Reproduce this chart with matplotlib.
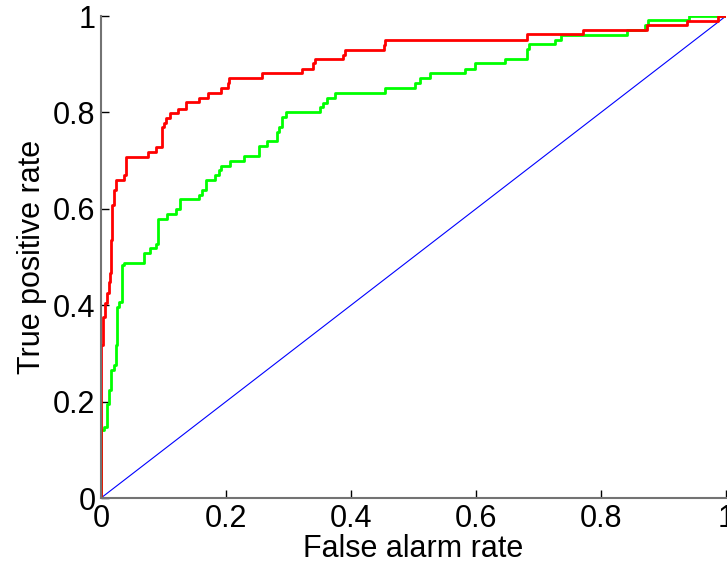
import matplotlib
matplotlib.use('Agg')
import matplotlib.pyplot as plt

plt.rcParams['font.family'] = ['Liberation Sans', 'DejaVu Sans']

# ROC corner points (false alarm rate, true positive rate)
red_fpr = [0, 0, 0.003, 0.003, 0.006, 0.006, 0.009, 0.009, 0.012, 0.012, 0.014, 0.014,
           0.016, 0.016, 0.018, 0.018, 0.021, 0.021, 0.024, 0.024, 0.037, 0.037, 0.040, 0.040,
           0.075, 0.075, 0.088, 0.088, 0.097, 0.097, 0.101, 0.101, 0.104, 0.104, 0.111, 0.111,
           0.123, 0.123, 0.136, 0.136, 0.156, 0.156, 0.171, 0.171, 0.192, 0.192, 0.203, 0.203,
           0.205, 0.205, 0.258, 0.258, 0.321, 0.321, 0.339, 0.339, 0.342, 0.342, 0.387, 0.387,
           0.390, 0.390, 0.452, 0.452, 0.454, 0.454, 0.681, 0.681, 0.771, 0.771, 0.873, 0.873,
           0.937, 0.937, 0.987, 0.987, 1.0]
red_tpr = [0, 0.317, 0.317, 0.375, 0.375, 0.405, 0.405, 0.425, 0.425, 0.448, 0.448, 0.467,
           0.467, 0.535, 0.535, 0.608, 0.608, 0.639, 0.639, 0.660, 0.660, 0.670, 0.670, 0.708,
           0.708, 0.718, 0.718, 0.729, 0.729, 0.770, 0.770, 0.779, 0.779, 0.788, 0.788, 0.798,
           0.798, 0.808, 0.808, 0.821, 0.821, 0.829, 0.829, 0.840, 0.840, 0.850, 0.850, 0.860,
           0.860, 0.871, 0.871, 0.881, 0.881, 0.890, 0.890, 0.902, 0.902, 0.910, 0.910, 0.919,
           0.919, 0.929, 0.929, 0.940, 0.940, 0.950, 0.950, 0.962, 0.962, 0.971, 0.971, 0.981,
           0.981, 0.990, 0.990, 1.0, 1.0]

green_fpr = [0, 0, 0.004, 0.004, 0.009, 0.009, 0.013, 0.013, 0.016, 0.016, 0.020, 0.020,
             0.0235, 0.0235, 0.025, 0.025, 0.029, 0.029, 0.033, 0.033, 0.037, 0.037, 0.069, 0.069,
             0.078, 0.078, 0.0875, 0.0875, 0.091, 0.091, 0.105, 0.105, 0.120, 0.120, 0.126, 0.126,
             0.156, 0.156, 0.161, 0.161, 0.168, 0.168, 0.182, 0.182, 0.188, 0.188, 0.192, 0.192,
             0.206, 0.206, 0.228, 0.228, 0.252, 0.252, 0.265, 0.265, 0.282, 0.282, 0.285, 0.285,
             0.289, 0.289, 0.296, 0.296, 0.350, 0.350, 0.355, 0.355, 0.361, 0.361, 0.374, 0.374,
             0.455, 0.455, 0.502, 0.502, 0.510, 0.510, 0.526, 0.526, 0.582, 0.582, 0.598, 0.598,
             0.646, 0.646, 0.682, 0.682, 0.685, 0.685, 0.726, 0.726, 0.736, 0.736, 0.841, 0.841,
             0.870, 0.870, 0.875, 0.875, 0.941, 0.941, 1.0]
green_tpr = [0, 0.141, 0.141, 0.147, 0.147, 0.196, 0.196, 0.224, 0.224, 0.266, 0.266, 0.276,
             0.276, 0.317, 0.317, 0.397, 0.397, 0.407, 0.407, 0.483, 0.483, 0.488, 0.488, 0.508,
             0.508, 0.518, 0.518, 0.528, 0.528, 0.578, 0.578, 0.589, 0.589, 0.599, 0.599, 0.620,
             0.620, 0.629, 0.629, 0.639, 0.639, 0.660, 0.660, 0.670, 0.670, 0.680, 0.680, 0.689,
             0.689, 0.700, 0.700, 0.710, 0.710, 0.730, 0.730, 0.740, 0.740, 0.760, 0.760, 0.769,
             0.769, 0.790, 0.790, 0.800, 0.800, 0.811, 0.811, 0.820, 0.820, 0.829, 0.829, 0.841,
             0.841, 0.850, 0.850, 0.860, 0.860, 0.871, 0.871, 0.881, 0.881, 0.891, 0.891, 0.902,
             0.902, 0.911, 0.911, 0.932, 0.932, 0.941, 0.941, 0.950, 0.950, 0.961, 0.961, 0.971,
             0.971, 0.981, 0.981, 0.992, 0.992, 1.0, 1.0]

chance = [0, 1]
ticks = [0, 0.2, 0.4, 0.6, 0.8, 1]
tick_labels = ['0', '0.2', '0.4', '0.6', '0.8', '1']

fig = plt.figure(figsize=(7.27, 5.74), dpi=100)
ax = fig.add_axes([101/727, 76/574, 625/727, 482/574])

ax.plot(chance, chance, color='#0000ff', lw=0.8)
ax.plot(green_fpr, green_tpr, color='#00ff00', lw=2)
ax.plot(red_fpr, red_tpr, color='#ff0000', lw=2)

ax.set_xlim(0, 1)
ax.set_ylim(0, 1)
ax.set_xticks(ticks)
ax.set_xticklabels(tick_labels)
ax.set_yticks(ticks)
ax.set_yticklabels(tick_labels)
ax.tick_params(direction='in', length=6, width=1, labelsize=22, pad=4, color='k')
for s in ['top', 'right']:
    ax.spines[s].set_visible(False)
for s in ['left', 'bottom']:
    ax.spines[s].set_color('0.45')
    ax.spines[s].set_linewidth(1.5)

ax.set_xlabel('False alarm rate', fontsize=22, labelpad=0)
ax.set_ylabel('True positive rate', fontsize=22, labelpad=4)

fig.savefig('out.png', dpi=100)
